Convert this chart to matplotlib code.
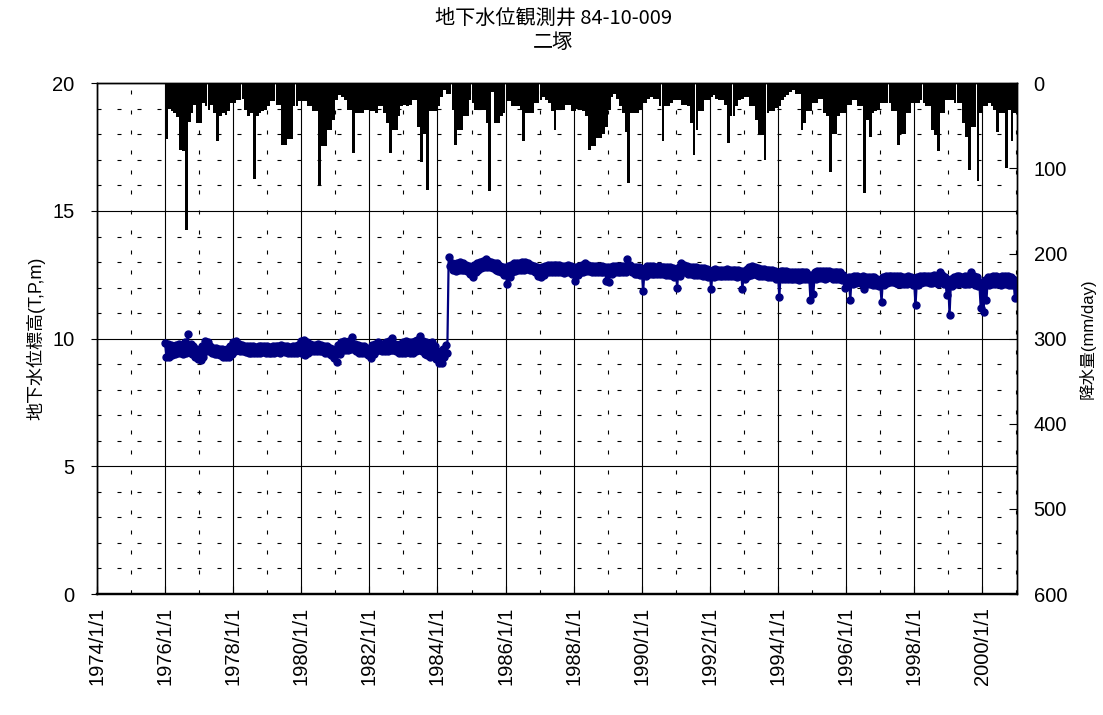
import datetime as dt
import pandas as pd
import matplotlib
matplotlib.use('Agg')
import matplotlib.pyplot as plt
import matplotlib.dates as mdates
from matplotlib.ticker import MultipleLocator, FixedLocator

plt.rcParams['font.family'] = ['Liberation Sans', 'Noto Sans CJK JP', 'DejaVu Sans']

# daily max precipitation per month (mm/day), 1976/1 .. 2001/1
precip_mm = [
    65, 30, 33, 35, 40, 78, 80, 172, 45, 35, 25, 47,   # 1976
    47, 23, 27, 31, 25, 35, 68, 39, 35, 37, 33, 23,    # 1977
    23, 20, 20, 18, 31, 39, 35, 113, 39, 35, 33, 31,   # 1978
    27, 21, 21, 25, 25, 72, 72, 65, 65, 27, 27, 21,    # 1979
    21, 21, 27, 27, 33, 33, 121, 74, 74, 55, 55, 43,   # 1980
    20, 14, 16, 20, 31, 31, 82, 35, 35, 35, 31, 31,    # 1981
    33, 33, 35, 27, 27, 35, 47, 82, 55, 55, 39, 27,    # 1982
    25, 27, 25, 20, 20, 51, 92, 59, 125, 33, 33, 33,   # 1983
    27, 16, 8, 12, 12, 31, 72, 55, 55, 39, 39, 20,     # 1984
    23, 31, 31, 31, 31, 47, 127, 10, 47, 47, 39, 35,   # 1985
    21, 21, 27, 27, 27, 31, 68, 35, 35, 35, 23, 23,    # 1986
    20, 16, 20, 23, 33, 55, 31, 31, 31, 25, 25, 33,    # 1987
    33, 30, 31, 33, 39, 78, 74, 74, 64, 64, 60, 51,    # 1988
    31, 16, 12, 18, 27, 35, 57, 117, 35, 35, 35, 31,   # 1989
    23, 23, 18, 16, 18, 18, 27, 68, 27, 27, 23, 20,    # 1990
    20, 20, 25, 25, 27, 47, 84, 55, 33, 33, 20, 20,    # 1991
    16, 14, 18, 20, 20, 25, 70, 39, 39, 27, 20, 18,    # 1992
    16, 16, 27, 27, 43, 61, 61, 90, 35, 33, 33, 29,    # 1993
    27, 20, 16, 14, 10, 8, 12, 12, 55, 47, 33, 33,     # 1994
    23, 23, 18, 18, 35, 39, 104, 59, 59, 39, 35, 35,   # 1995
    25, 25, 20, 20, 27, 27, 129, 43, 63, 35, 33, 31,   # 1996
    23, 23, 23, 23, 33, 33, 72, 59, 59, 35, 35, 23,    # 1997
    23, 23, 20, 23, 27, 27, 55, 61, 80, 35, 35, 20,    # 1998
    20, 20, 23, 23, 23, 47, 63, 102, 51, 51, 115, 35,  # 1999
    27, 27, 23, 27, 31, 57, 35, 35, 100, 31, 68, 35,   # 2000
    35,                                                # 2001
]

# groundwater level (T.P. m), monthly upper / lower readings, 1976/1 .. 2001/1
level_hi = [
    9.84, 9.8, 9.75, 9.7, 9.75, 9.8, 9.75, 9.85, 10.2, 9.8, 9.7, 9.6,
    9.55, 9.7, 9.9, 9.85, 9.7, 9.65, 9.65, 9.6, 9.6, 9.55, 9.6, 9.7,
    9.85, 9.9, 9.8, 9.75, 9.7, 9.7, 9.72, 9.7, 9.68, 9.7, 9.72, 9.7,
    9.7, 9.68, 9.7, 9.72, 9.7, 9.75, 9.72, 9.7, 9.68, 9.7, 9.72, 9.75,
    9.9, 9.95, 9.85, 9.8, 9.75, 9.75, 9.78, 9.75, 9.72, 9.7, 9.65, 9.6,
    9.5, 9.75, 9.85, 9.9, 9.85, 9.9, 10.05, 9.8, 9.75, 9.72, 9.7, 9.65,
    9.55, 9.75, 9.8, 9.85, 9.8, 9.8, 9.85, 9.9, 10.03, 9.8, 9.75, 9.8,
    9.85, 9.9, 9.85, 9.85, 9.9, 9.95, 10.1, 9.9, 9.85, 9.8, 9.85, 9.7,
    9.5, 9.35, 9.6, 9.75, 13.18, 12.95, 12.9, 12.95, 13.0, 12.95, 12.9, 12.85,
    12.8, 12.9, 12.95, 13.0, 13.05, 13.1, 13.05, 13.0, 12.95, 12.95, 12.85, 12.8,
    12.7, 12.85, 12.9, 12.95, 12.95, 12.95, 13.0, 13.0, 12.95, 12.9, 12.85, 12.8,
    12.75, 12.8, 12.85, 12.88, 12.9, 12.88, 12.9, 12.88, 12.85, 12.85, 12.88, 12.85,
    12.75, 12.8, 12.85, 12.9, 12.98, 12.9, 12.85, 12.85, 12.85, 12.85, 12.85, 12.8,
    12.8, 12.8, 12.85, 12.85, 12.85, 12.85, 12.85, 13.1, 12.9, 12.8, 12.8, 12.8,
    12.7, 12.75, 12.85, 12.85, 12.85, 12.8, 12.85, 12.8, 12.8, 12.8, 12.8, 12.75,
    12.65, 12.8, 12.95, 12.9, 12.85, 12.8, 12.8, 12.8, 12.78, 12.75, 12.75, 12.72,
    12.6, 12.7, 12.72, 12.7, 12.7, 12.7, 12.72, 12.7, 12.7, 12.68, 12.7, 12.65,
    12.65, 12.72, 12.8, 12.85, 12.8, 12.75, 12.72, 12.72, 12.7, 12.7, 12.7, 12.65,
    12.55, 12.66, 12.66, 12.65, 12.62, 12.6, 12.6, 12.6, 12.62, 12.62, 12.6, 12.5,
    12.5, 12.62, 12.65, 12.66, 12.65, 12.66, 12.66, 12.62, 12.6, 12.62, 12.6, 12.5,
    12.35, 12.4, 12.42, 12.45, 12.45, 12.42, 12.45, 12.42, 12.4, 12.4, 12.4, 12.35,
    12.3, 12.4, 12.45, 12.47, 12.47, 12.45, 12.45, 12.45, 12.42, 12.42, 12.45, 12.42,
    12.25, 12.4, 12.45, 12.45, 12.47, 12.45, 12.45, 12.5, 12.45, 12.6, 12.5, 12.4,
    12.2, 12.35, 12.42, 12.45, 12.45, 12.42, 12.45, 12.45, 12.6, 12.45, 12.4, 12.2,
    12.1, 12.3, 12.4, 12.42, 12.45, 12.45, 12.42, 12.45, 12.47, 12.45, 12.42, 12.35,
    12.2,
]
level_lo = [
    9.3, 9.3, 9.35, 9.4, 9.45, 9.45, 9.4, 9.45, 9.5, 9.4, 9.3, 9.2,
    9.17, 9.3, 9.5, 9.5, 9.45, 9.4, 9.4, 9.36, 9.3, 9.3, 9.3, 9.4,
    9.5, 9.55, 9.5, 9.5, 9.48, 9.45, 9.45, 9.45, 9.42, 9.45, 9.48, 9.45,
    9.45, 9.42, 9.45, 9.48, 9.45, 9.5, 9.48, 9.45, 9.42, 9.45, 9.45, 9.5,
    9.4, 9.36, 9.45, 9.5, 9.5, 9.5, 9.52, 9.5, 9.45, 9.42, 9.35, 9.25,
    9.1, 9.4, 9.55, 9.55, 9.55, 9.6, 9.6, 9.5, 9.45, 9.45, 9.42, 9.35,
    9.25, 9.4, 9.5, 9.55, 9.5, 9.5, 9.5, 9.55, 9.55, 9.5, 9.45, 9.45,
    9.45, 9.5, 9.45, 9.45, 9.5, 9.55, 9.5, 9.4, 9.35, 9.3, 9.35, 9.2,
    9.05, 9.05, 9.3, 9.45, 12.85, 12.7, 12.65, 12.7, 12.7, 12.7, 12.65, 12.55,
    12.4, 12.6, 12.7, 12.75, 12.8, 12.8, 12.8, 12.75, 12.7, 12.65, 12.6, 12.5,
    12.15, 12.4, 12.6, 12.65, 12.7, 12.7, 12.7, 12.72, 12.7, 12.7, 12.6, 12.45,
    12.4, 12.5, 12.6, 12.6, 12.62, 12.6, 12.62, 12.6, 12.58, 12.6, 12.6, 12.55,
    12.27, 12.5, 12.6, 12.62, 12.65, 12.65, 12.6, 12.6, 12.6, 12.6, 12.6, 12.25,
    12.2, 12.55, 12.6, 12.6, 12.6, 12.6, 12.6, 12.7, 12.6, 12.55, 12.55, 12.5,
    11.86, 12.45, 12.55, 12.55, 12.55, 12.52, 12.55, 12.52, 12.5, 12.5, 12.5, 12.4,
    12.0, 12.45, 12.6, 12.6, 12.55, 12.52, 12.5, 12.5, 12.48, 12.45, 12.45, 12.4,
    11.93, 12.4, 12.45, 12.45, 12.45, 12.45, 12.47, 12.45, 12.45, 12.43, 12.45, 11.95,
    12.35, 12.45, 12.5, 12.52, 12.5, 12.45, 12.45, 12.45, 12.42, 12.4, 12.42, 12.35,
    11.64, 12.35, 12.35, 12.33, 12.33, 12.32, 12.32, 12.3, 12.33, 12.35, 12.33, 11.5,
    11.75, 12.35, 12.38, 12.38, 12.35, 12.38, 12.4, 12.35, 12.33, 12.35, 12.3, 12.0,
    12.1, 11.5, 12.15, 12.18, 12.2, 12.15, 11.95, 12.15, 12.15, 12.12, 12.12, 12.05,
    11.42, 12.1, 12.18, 12.2, 12.2, 12.18, 12.15, 12.15, 12.15, 12.15, 12.18, 12.1,
    11.3, 12.1, 12.18, 12.2, 12.2, 12.18, 12.18, 12.2, 12.15, 12.2, 12.15, 11.7,
    10.92, 12.05, 12.15, 12.15, 12.18, 12.15, 12.15, 12.15, 12.18, 12.12, 12.05, 11.2,
    11.05, 11.5, 12.1, 12.15, 12.15, 12.15, 12.12, 12.15, 12.15, 12.12, 12.1, 11.6,
    11.6,
]

year_ticks = list(range(1974, 2001, 2))
tick_labels = [f'{y}/1/1' for y in year_ticks]

months = pd.date_range('1976-01-01', periods=len(precip_mm), freq='MS')
mx = mdates.date2num(months.to_pydatetime())

# interleave the upper and lower reading of each month
lv_x, lv_y = [], []
for i in range(len(level_hi)):
    lv_x += [mx[i], mx[i] + 15]
    lv_y += [level_hi[i], level_lo[i]]

fig = plt.figure(figsize=(11.03, 7.15), dpi=100)
ax1 = fig.add_axes([0.0879, 0.1692, 0.8341, 0.7143])

ax1.plot(lv_x, lv_y, color='#000080', lw=1.6, marker='o', ms=5,
         mec='#000080', mfc='#000080', zorder=3)

x0 = mdates.date2num(dt.datetime(1974, 1, 1))
x1 = mdates.date2num(dt.datetime(2001, 1, 8))
ax1.set_xlim(x0, x1)
ax1.set_ylim(0, 20)

major_x = [mdates.date2num(dt.datetime(y, 1, 1)) for y in year_ticks]
minor_x = [mdates.date2num(dt.datetime(y + 1, 1, 1)) for y in year_ticks]
ax1.xaxis.set_major_locator(FixedLocator(major_x))
ax1.xaxis.set_minor_locator(FixedLocator(minor_x))
ax1.set_xticklabels(tick_labels, rotation=90, fontsize=14.5)
ax1.yaxis.set_major_locator(MultipleLocator(5))
ax1.yaxis.set_minor_locator(MultipleLocator(1))

ax1.grid(which='major', color='black', lw=0.8, ls='-')
ax1.grid(which='minor', color='black', lw=0.8, ls=(0, (3.6, 14.4)))
ax1.set_axisbelow(True)

ax1.tick_params(axis='y', which='major', direction='out', length=4, labelsize=14.5, pad=12)
ax1.tick_params(axis='y', which='minor', length=0)
ax1.tick_params(axis='x', which='major', direction='in', length=6, pad=9)
ax1.tick_params(axis='x', which='minor', direction='in', length=3)
ax1.set_ylabel('地下水位標高(T,P,m)', fontsize=13, labelpad=5)

# precipitation hanging from the top on an inverted right axis
ax2 = ax1.twinx()
ax2.bar(mx, precip_mm, width=30, align='edge', color='black', linewidth=0)
ax2.set_ylim(600, 0)
ax2.yaxis.set_major_locator(MultipleLocator(100))
ax2.tick_params(axis='y', direction='in', length=6, labelsize=14.5, pad=12)
ax2.set_ylabel('降水量(mm/day)', fontsize=12, labelpad=8)
ax2.set_xlim(x0, x1)

for ax in (ax1, ax2):
    for s in ax.spines.values():
        s.set_linewidth(1.0)
        s.set_color('black')
    ax.spines['bottom'].set_linewidth(1.6)

title_font = ['Noto Sans CJK JP', 'DejaVu Sans']
fig.text(0.5015, 1 - 18 / 715, '地下水位観測井 84-10-009', ha='center', va='center',
         fontsize=14.5, family=title_font)
fig.text(0.5015, 1 - 42 / 715, '二塚', ha='center', va='center', fontsize=14.5, family=title_font)

fig.savefig('out.png', dpi=100)
